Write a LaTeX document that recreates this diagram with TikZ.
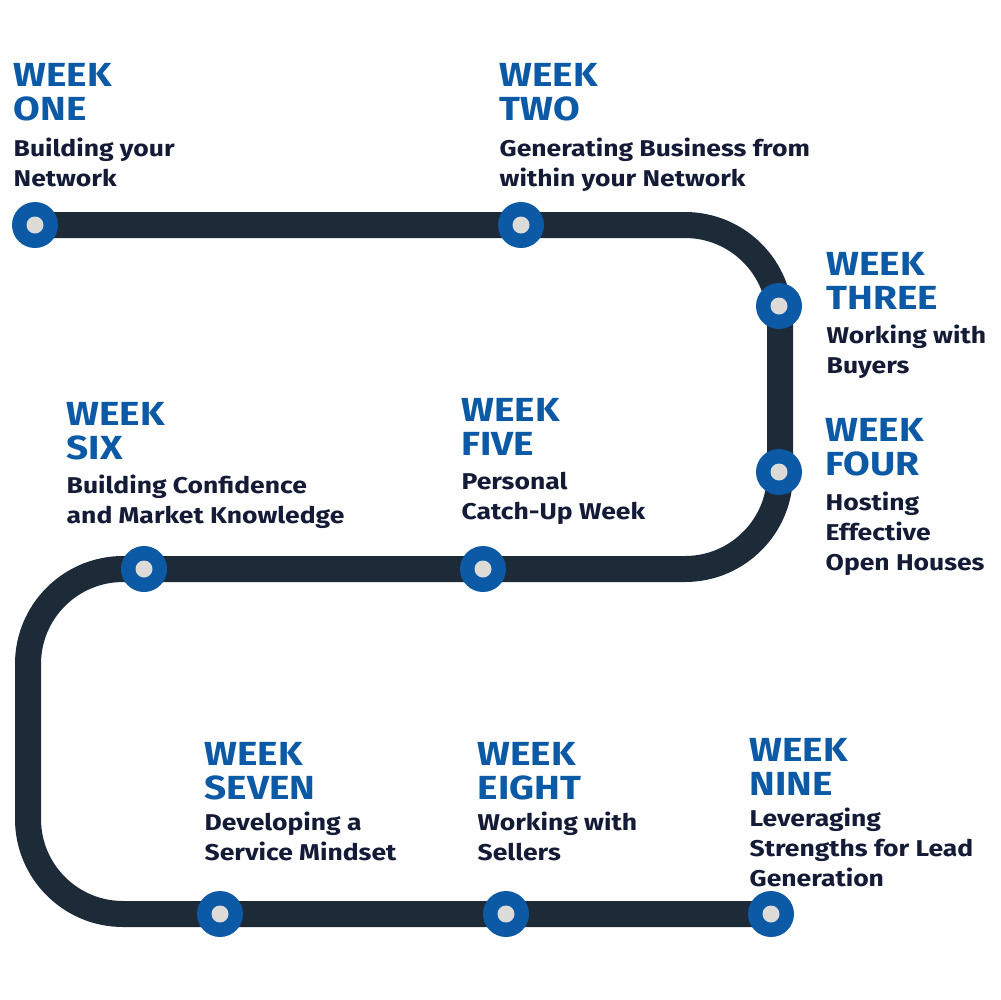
\documentclass[tikz,border=0pt]{standalone}
\usepackage{fontspec}
\setmainfont{Fira Sans}[FakeStretch=1.16]
\usetikzlibrary{positioning}

\definecolor{wkblue}{HTML}{0C5AA6}
\definecolor{wkink}{HTML}{141B36}
\definecolor{wktrack}{HTML}{1D2A38}
\definecolor{wkdot}{HTML}{DCDBD8}

\tikzset{
  wkstop/.style={circle, fill=wkblue, minimum size=4.6mm, inner sep=0pt,
    path picture={\fill[wkdot] (path picture bounding box.center) circle (0.85mm);}},
  wktitle/.style={anchor=north west, inner sep=0pt, align=left, text=wkblue,
    font=\fontsize{9.5pt}{9.7pt}\selectfont\bfseries},
  wkdesc/.style={inner sep=0pt, align=left, text=wkink,
    font=\fontsize{6.5pt}{8.5pt}\selectfont\bfseries},
  track/.style={draw=wktrack, line width=2.6mm, rounded corners=9.5mm},
}

% Week label: #1=name, #2=x, #3=y (top of caps), #4=number, #5=gap, #6=description
\newcommand{\weeklabel}[6]{
  \node[wktitle] (#1t) at (#2,#3) {WEEK\\#4};
  \node[wkdesc, below right=#5 and 0mm of #1t.south west] (#1d) {#6};
}

\begin{document}
\begin{tikzpicture}[x=0.1mm, y=-0.1mm]

\fill[white] (0,0) rectangle (1000,1000);
\useasboundingbox (0,0) rectangle (1000,1000);

% Stops along the track
\foreach \n/\x/\y in {1/35/225, 2/521/225, 3/779/306, 4/779/472, 5/483/569,
                      6/144/569, 7/220/914, 8/506/914, 9/771/914} {
  \coordinate (p\n) at (\x,\y);
}

% Track corners
\coordinate (c1) at (780,225);
\coordinate (c2) at (780,569);
\coordinate (c3) at (28,569);
\coordinate (c4) at (28,914);

\draw[track] (p1) -- (c1) -- (c2) -- (c3) -- (c4) -- (p9);

\foreach \n in {1,...,9} {
  \node[wkstop] (s\n) at (p\n) {};
}

% ── Labels ──
\weeklabel{one}{13}{63}{ONE}{1.5mm}{Building your\\Network}
\weeklabel{two}{499}{63}{TWO}{1.5mm}{Generating Business from\\within your Network}
\weeklabel{three}{826}{252}{THREE}{1.4mm}{Working with\\Buyers}
\weeklabel{four}{825}{418}{FOUR}{1.4mm}{Hosting\\Effective\\Open Houses}
\weeklabel{five}{461}{398}{FIVE}{1.5mm}{Personal\\Catch-Up Week}
\weeklabel{six}{66}{402}{SIX}{1.3mm}{Building Confidence\\and Market Knowledge}
\weeklabel{seven}{204}{742}{SEVEN}{1.0mm}{Developing a\\Service Mindset}
\weeklabel{eight}{477}{742}{EIGHT}{1.0mm}{Working with\\Sellers}
\weeklabel{nine}{749}{738}{NINE}{1.1mm}{Leveraging\\Strengths for Lead\\Generation}

\end{tikzpicture}
\end{document}
